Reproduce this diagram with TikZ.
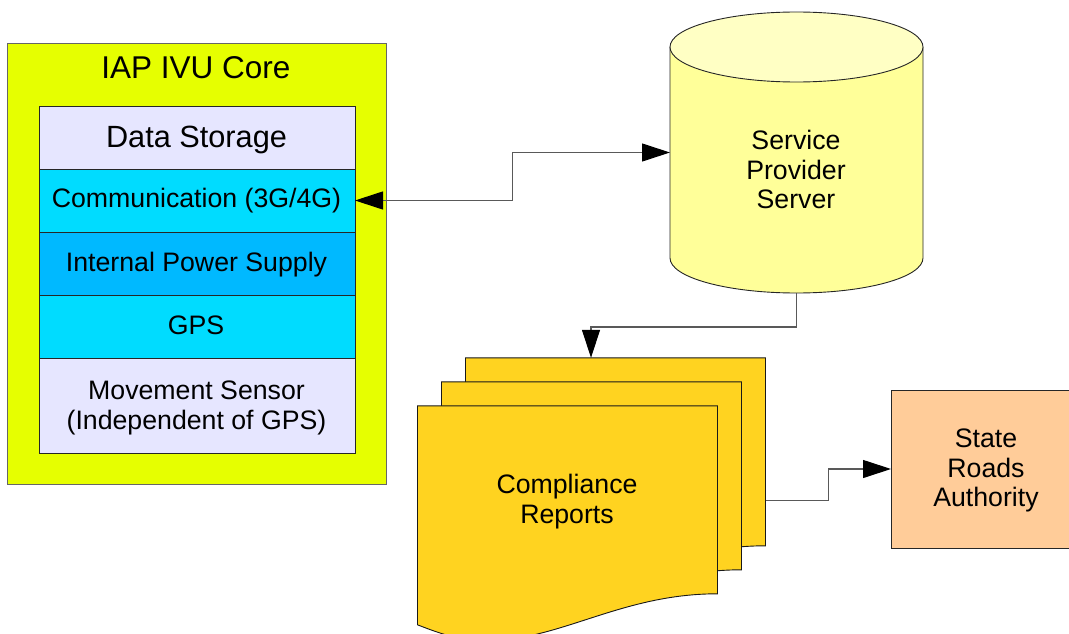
\documentclass[tikz,border=0pt]{standalone}
\usepackage{fontspec}
\setmainfont{Liberation Sans}
\usetikzlibrary{arrows.meta,calc}
\definecolor{coreyellow}{RGB}{230,255,0}
\definecolor{lavender}{RGB}{230,230,255}
\definecolor{cyanrow}{RGB}{0,220,255}
\definecolor{powerrow}{RGB}{0,185,255}
\definecolor{cylbody}{RGB}{255,255,153}
\definecolor{cyltop}{RGB}{255,255,196}
\definecolor{pagefill}{RGB}{255,211,32}
\definecolor{authfill}{RGB}{255,204,153}
\begin{document}
\begin{tikzpicture}[x=1pt,y=-1pt,
  >={Triangle[length=28pt,width=18pt,color=black]},
  box/.style={rectangle,draw=black!85,line width=0.9pt,inner sep=0pt,outer sep=0pt},
  cell/.style={box,minimum width=316pt,minimum height=63pt},
  ghost/.style={rectangle,inner sep=0pt,outer sep=0pt},
  lbl/.style={anchor=base,inner sep=0pt,font=\fontsize{26.7}{30}\selectfont},
  conn/.style={draw=black!65,line width=1.1pt},
  page/.style={fill=pagefill,draw=black!90,line width=0.9pt}]
\useasboundingbox (0,0) rectangle (1069,634);
\clip (0,0) rectangle (1069,634);

% IVU core with its stacked modules
\node[box,draw=black!60,line width=1.2pt,fill=coreyellow,minimum width=379pt,minimum height=441pt] (core) at (197,264) {};
\node[cell,fill=lavender] (ds) at (197,137.5) {};
\node[cell,fill=cyanrow] (comm) at (197,200.5) {};
\node[cell,fill=powerrow] (pow) at (197,263.5) {};
\node[cell,fill=cyanrow] (gps) at (197,326.5) {};
\node[cell,fill=lavender,minimum height=95pt] (mov) at (197,405.5) {};
\node[lbl,font=\fontsize{31.5}{36}\selectfont] (tcore) at (196,78) {IAP IVU Core};
\node[lbl,font=\fontsize{30.7}{35}\selectfont] (tds) at (196.5,147) {Data Storage};
\node[lbl] (tcomm) at (196.5,207) {Communication (3G/4G)};
\node[lbl] (tpow) at (196.5,271.7) {Internal Power Supply};
\node[lbl] (tgps) at (196,334.3) {GPS};
\node[lbl] (tmova) at (196.5,399.3) {Movement Sensor};
\node[lbl] (tmovb) at (196.5,429) {(Independent of GPS)};

% server cylinder
\fill[cylbody] (670,47) -- (670,258) arc[start angle=180,end angle=0,x radius=126.5,y radius=35] -- (923,47) -- cycle;
\draw[black!85,line width=0.9pt] (670,47) -- (670,258) arc[start angle=180,end angle=0,x radius=126.5,y radius=35] -- (923,47);
\filldraw[fill=cyltop,draw=black!85,line width=0.9pt] (796.5,47) ellipse[x radius=126.5,y radius=35];
\node[ghost,minimum width=253pt,minimum height=281pt] (srv) at (796.5,152.5) {};
\node[lbl] (tsrva) at (796,149) {Service};
\node[lbl] (tsrvb) at (796,179) {Provider};
\node[lbl] (tsrvc) at (796,208) {Server};

% stack of report pages, back to front
\foreach \dx/\dy in {465.5/357.8,441.5/381.8,417.5/405.8}
  \filldraw[page,shift={(\dx,\dy)}] (0,0) -- (300,0) -- (300,188)
    .. controls (203,188) and (143,235) .. (68,235)
    .. controls (43,235) and (23,228) .. (0,219) -- cycle;
\node[ghost,minimum width=300pt,minimum height=188pt] (rep) at (615.5,451.8) {};
\node[lbl] (trepa) at (567,493) {Compliance};
\node[lbl] (trepb) at (567,523) {Reports};

% state roads authority
\node[box,fill=authfill,minimum width=190pt,minimum height=158pt] (sra) at (986,469) {};
\node[lbl] (tsraa) at (986,447) {State};
\node[lbl] (tsrab) at (986,477) {Roads};
\node[lbl] (tsrac) at (986,506) {Authority};

% connectors
\draw[conn,<->] (comm.east) -| ($(comm.east)!.5!(srv.west)$) |- (srv.west);
\draw[conn,->] (srv.south) -- ++(0,34) -| ([xshift=-24.5pt]rep.north);
\coordinate (repout) at ([yshift=-48.9pt]rep.east);
\draw[conn,->] (repout) -| ($(repout)!.5!(sra.west)$) |- (sra.west);
\end{tikzpicture}
\end{document}
